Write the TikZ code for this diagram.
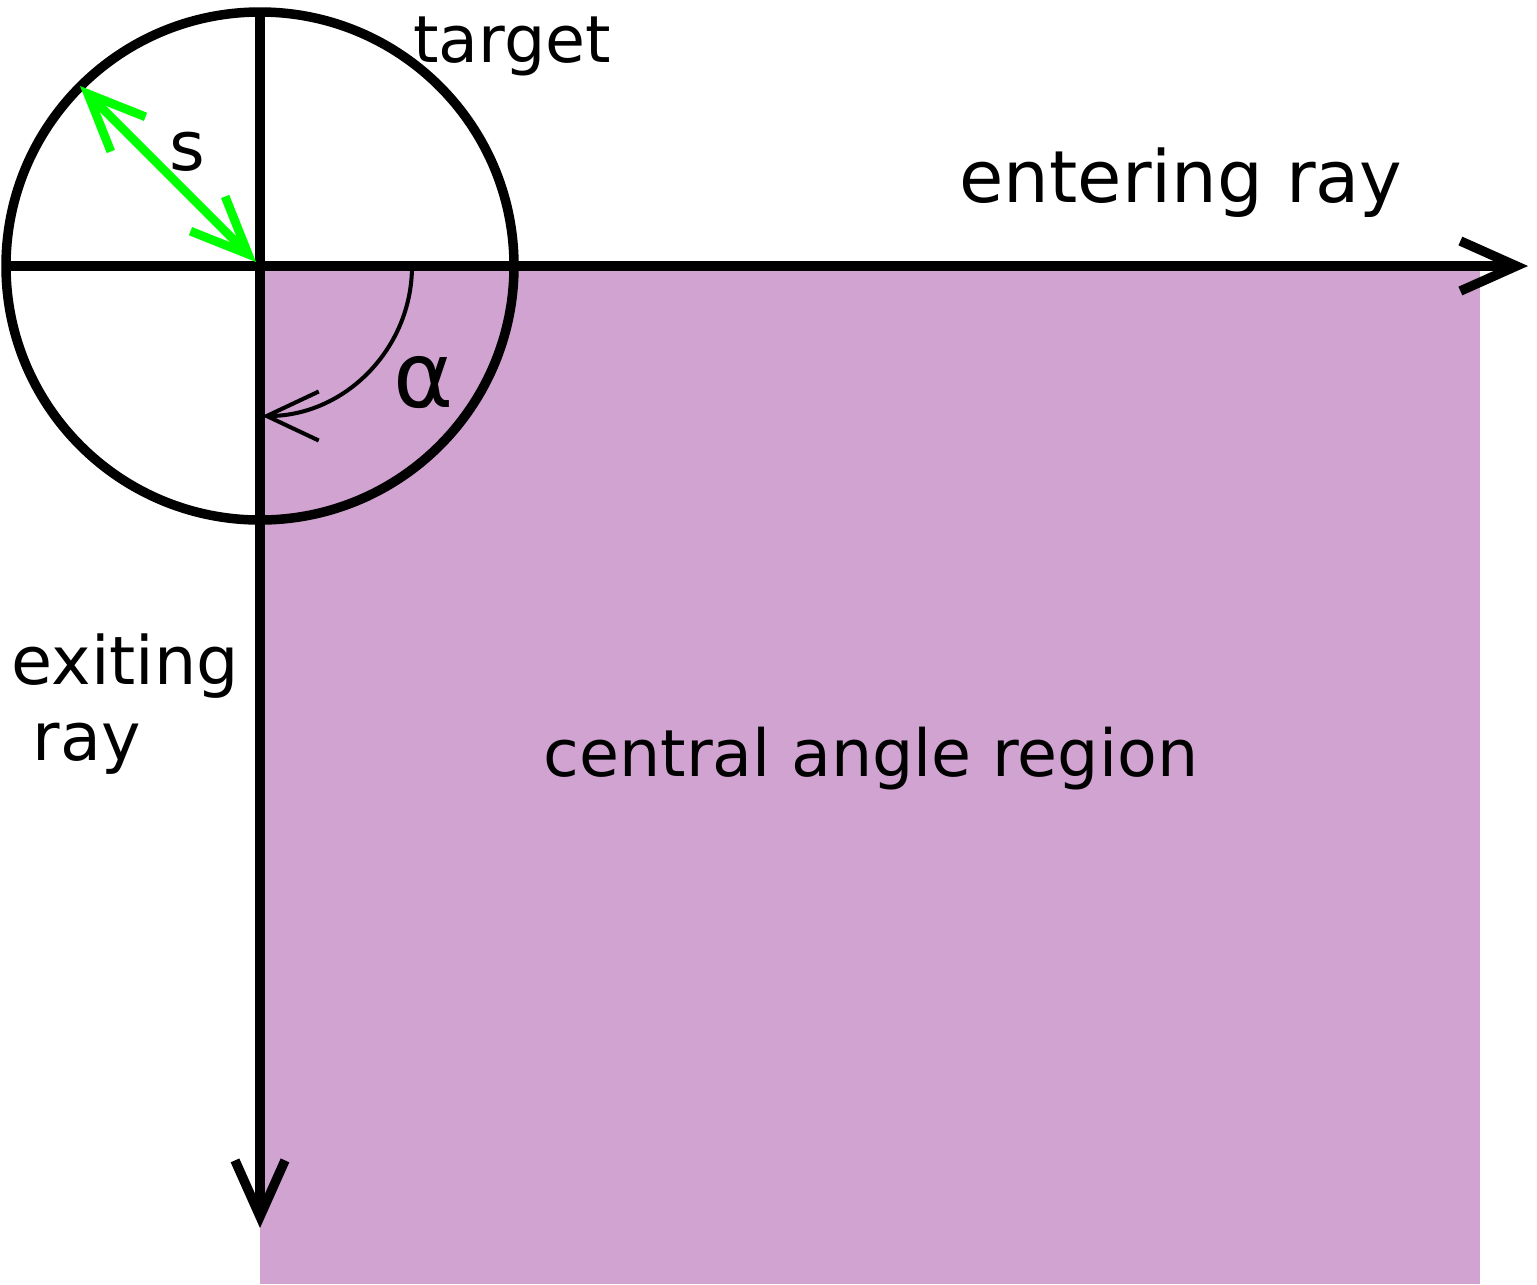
\documentclass[tikz,border=0pt]{standalone}
\usepackage{fontspec}
\setmainfont{DejaVu Sans}
\usetikzlibrary{arrows.meta}
\definecolor{regionpurple}{RGB}{209,163,209}
\definecolor{sgreen}{RGB}{0,255,0}
\begin{document}
\begin{tikzpicture}[line join=miter, line cap=butt,
    ray/.style={line width=2.7pt},
    barb/.style={-{Straight Barb[length=5.6mm,width=5mm,line cap=butt,line join=miter]}},
    lbl/.style={inner sep=0pt, anchor=base, font=\fontsize{18.5}{22}\selectfont}]
  \useasboundingbox (0,0) rectangle (15.37,-12.84);
  \coordinate (O) at (2.60,-2.66);
  \coordinate (W) at (0.06,-2.66);
  \coordinate (E) at (15.28,-2.66);
  \coordinate (N) at (2.60,-0.12);
  \coordinate (X) at (2.60,-12.28);
  % central angle region
  \fill[regionpurple] (O) rectangle (14.80,-12.84);
  % target and rays
  \draw[ray] (O) circle[radius=2.54];
  \draw[ray,barb] (W) -- (E);
  \draw[ray,barb] (N) -- (X);
  % size s
  \coordinate (S1) at (0.80,-0.86);
  \coordinate (S2) at (2.56,-2.62);
  \draw[sgreen,line width=2.5pt,{Straight Barb[length=5.7mm,width=4.9mm,line cap=butt,line join=miter]}-{Straight Barb[length=5.7mm,width=4.9mm,line cap=butt,line join=miter]}] (S1) -- (S2);
  % angle alpha
  \draw[line width=1.15pt,-{Straight Barb[length=5.2mm,width=4.9mm,line cap=butt,line join=miter]}] (4.12,-2.66) arc[start angle=0,end angle=-90,radius=1.50];
  \node[lbl] (target) at (5.12,-0.62) {target};
  \node[lbl,font=\fontsize{20.5}{24}\selectfont] (entering) at (11.81,-2.02) {entering ray};
  \node[lbl,font=\fontsize{19.5}{22}\selectfont] (s) at (1.87,-1.70) {s};
  \node[lbl,font=\fontsize{26}{30}\selectfont] (alpha) at (4.24,-4.07) {α};
  \node[lbl,anchor=base west,align=left,font=\fontsize{19}{21.5}\selectfont] (exiting) at (0.11,-7.60) {exiting\\\ ray};
  \node[lbl] (region) at (8.71,-7.76) {central angle region};
\end{tikzpicture}
\end{document}
